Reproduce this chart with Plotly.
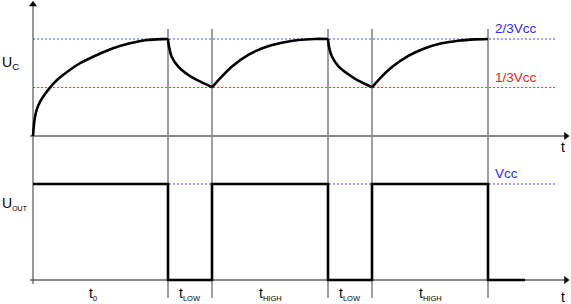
import plotly.graph_objects as go

# ---- data (time in arbitrary units, voltages in units of Vcc) ----
# capacitor voltage, one array pair per segment
charge0_t = [0, 1, 2, 4, 7, 12, 17, 23, 30, 47, 64, 80, 97, 114, 130, 135]
charge0_v = [0, 0.082, 0.131, 0.186, 0.234, 0.289, 0.333, 0.378, 0.419, 0.5, 0.557, 0.603, 0.637, 0.660, 0.666, 0.667]

disch1_t = [135, 135.3, 136, 138.7, 145.3, 155.3, 165.3, 179]
disch1_v = [0.667, 0.645, 0.614, 0.545, 0.476, 0.419, 0.380, 0.335]

charge1_t = [179, 188.7, 198.7, 215.3, 232, 248.7, 265.3, 282, 295]
charge1_v = [0.335, 0.408, 0.476, 0.557, 0.610, 0.641, 0.660, 0.667, 0.667]

disch2_t = [295, 295.3, 296, 298.7, 305.3, 315.3, 325.3, 339]
disch2_v = [0.667, 0.645, 0.614, 0.550, 0.481, 0.424, 0.380, 0.335]

charge2_t = [339, 348.7, 358.7, 375.3, 392, 408.7, 425.3, 442, 455]
charge2_v = [0.335, 0.408, 0.472, 0.550, 0.603, 0.637, 0.655, 0.664, 0.667]

# output voltage
out_t = [0, 135, 135, 179, 179, 295, 295, 339, 339, 455, 455, 492]
out_v = [1, 1, 0, 0, 1, 1, 0, 0, 1, 1, 0, 0]

# phase boundaries and labels
edges = [135, 179, 295, 339, 455]
phase_base = ["t", "t", "t", "t", "t"]
phase_sub = ["0", "LOW", "HIGH", "LOW", "HIGH"]
phase_label_t = [60, 157, 237, 317, 397]

levels_top = [2 / 3, 1 / 3]
level_names = ["2/3Vcc", "1/3Vcc"]
level_colors = ["#2a2aff", "#f01a1a"]
level_line_colors = ["#4a4aff", "#ff3a3a"]

# ---- layout constants ----
W, H = 571, 304
X0_PX = 33          # pixel of t = 0
TOP_ZERO_PX, TOP_SCALE = 136, 145.5     # top panel: px of 0 V, px per Vcc
BOT_ZERO_PX, BOT_SCALE = 280, 96        # bottom panel
FONT = "Liberation Sans, Arial, sans-serif"

x_range = [-X0_PX, W - X0_PX]
y_range = [-(H - TOP_ZERO_PX) / TOP_SCALE, TOP_ZERO_PX / TOP_SCALE]
y2_range = [-(H - BOT_ZERO_PX) / BOT_SCALE, BOT_ZERO_PX / BOT_SCALE]

T_END_AXIS = 533
T_END_LEVEL = 524
GUIDE_TOP = (TOP_ZERO_PX - 29) / TOP_SCALE
GUIDE_BOT = (TOP_ZERO_PX - 298) / TOP_SCALE
LEFT_AXIS_BOT = (TOP_ZERO_PX - 284) / TOP_SCALE
ARROW_UP_Y = (TOP_ZERO_PX - 4.5) / TOP_SCALE

fig = go.Figure()

shapes = []
# vertical phase boundaries
for e in edges:
    shapes.append(dict(type="line", xref="x", yref="y", x0=e, x1=e, y0=GUIDE_BOT, y1=GUIDE_TOP,
                       line=dict(color="#6a6a6a", width=1.3), layer="below"))
# level lines
for lv, col in zip(levels_top, level_line_colors):
    shapes.append(dict(type="line", xref="x", yref="y", x0=0, x1=T_END_LEVEL, y0=lv, y1=lv,
                       line=dict(color=col, width=1, dash="2px,2px"), layer="below"))
shapes.append(dict(type="line", xref="x", yref="y2", x0=0, x1=T_END_LEVEL, y0=1, y1=1,
                   line=dict(color="#4a4aff", width=1, dash="2px,2px"), layer="below"))
# axes
shapes.append(dict(type="line", xref="x", yref="y", x0=-3, x1=T_END_AXIS, y0=0, y1=0,
                   line=dict(color="#8a8a8a", width=2), layer="below"))
shapes.append(dict(type="line", xref="x", yref="y2", x0=-3, x1=T_END_AXIS, y0=0, y1=0,
                   line=dict(color="#8a8a8a", width=2), layer="below"))
shapes.append(dict(type="line", xref="x", yref="y", x0=0, x1=0, y0=LEFT_AXIS_BOT, y1=ARROW_UP_Y,
                   line=dict(color="#555555", width=1.2), layer="below"))

# capacitor voltage segments
for tt, vv in [(charge0_t, charge0_v), (disch1_t, disch1_v), (charge1_t, charge1_v),
               (disch2_t, disch2_v), (charge2_t, charge2_v)]:
    fig.add_trace(go.Scatter(x=tt, y=vv, mode="lines", yaxis="y",
                             line=dict(color="black", width=2.6, shape="spline", smoothing=0.5),
                             showlegend=False, hoverinfo="skip"))

# output
fig.add_trace(go.Scatter(x=out_t, y=out_v, mode="lines", yaxis="y2",
                         line=dict(color="black", width=2.6), showlegend=False, hoverinfo="skip"))

# arrowheads
fig.add_trace(go.Scatter(x=[0], y=[ARROW_UP_Y], mode="markers", yaxis="y",
                         marker=dict(symbol="triangle-up", size=7, color="black"),
                         showlegend=False, hoverinfo="skip"))
fig.add_trace(go.Scatter(x=[T_END_AXIS], y=[0], mode="markers", yaxis="y",
                         marker=dict(symbol="triangle-right", size=7, color="black"),
                         showlegend=False, hoverinfo="skip"))
fig.add_trace(go.Scatter(x=[T_END_AXIS], y=[0], mode="markers", yaxis="y2",
                         marker=dict(symbol="triangle-right", size=7, color="black"),
                         showlegend=False, hoverinfo="skip"))

ann = []
for lv, name, col in zip(levels_top, level_names, level_colors):
    ann.append(dict(x=460, y=lv, xref="x", yref="y", text=name, showarrow=False,
                    xanchor="left", yanchor="bottom", yshift=1,
                    font=dict(family=FONT, size=13.5, color=col)))
ann.append(dict(x=460, y=1, xref="x", yref="y2", text="Vcc", showarrow=False,
                xanchor="left", yanchor="bottom", yshift=1,
                font=dict(family=FONT, size=13.5, color="#2a2aff")))
ann.append(dict(x=-33, y=0.5, xref="x", yref="y", text="U<sub>C</sub>", showarrow=False,
                xanchor="left", yanchor="middle",
                font=dict(family=FONT, size=14, color="black")))
ann.append(dict(x=-33, y=0.8, xref="x", yref="y2",
                text="U<sub><span style='font-size:7px'>OUT</span></sub>", showarrow=False,
                xanchor="left", yanchor="middle",
                font=dict(family=FONT, size=14, color="black")))
ann.append(dict(x=530, y=-0.0756, xref="x", yref="y", text="t", showarrow=False,
                xanchor="center", yanchor="middle",
                font=dict(family=FONT, size=14, color="black")))
ann.append(dict(x=530, y=-0.177, xref="x", yref="y2", text="t", showarrow=False,
                xanchor="center", yanchor="middle",
                font=dict(family=FONT, size=14, color="black")))
for base, sub, tx in zip(phase_base, phase_sub, phase_label_t):
    ann.append(dict(x=tx, y=-0.15, xref="x", yref="y2",
                    text=f"{base}<sub><span style='font-size:7.5px'>{sub}</span></sub>",
                    showarrow=False, xanchor="center", yanchor="middle",
                    font=dict(family=FONT, size=14, color="black")))

fig.update_layout(
    width=W, height=H, autosize=False,
    margin=dict(l=0, r=0, t=0, b=0, pad=0),
    paper_bgcolor="white", plot_bgcolor="white",
    xaxis=dict(range=x_range, visible=False, fixedrange=True),
    yaxis=dict(range=y_range, visible=False, fixedrange=True),
    yaxis2=dict(range=y2_range, visible=False, overlaying="y", fixedrange=True),
    shapes=shapes, annotations=ann, showlegend=False,
)

fig.write_html("out.html", config={"displayModeBar": False})
